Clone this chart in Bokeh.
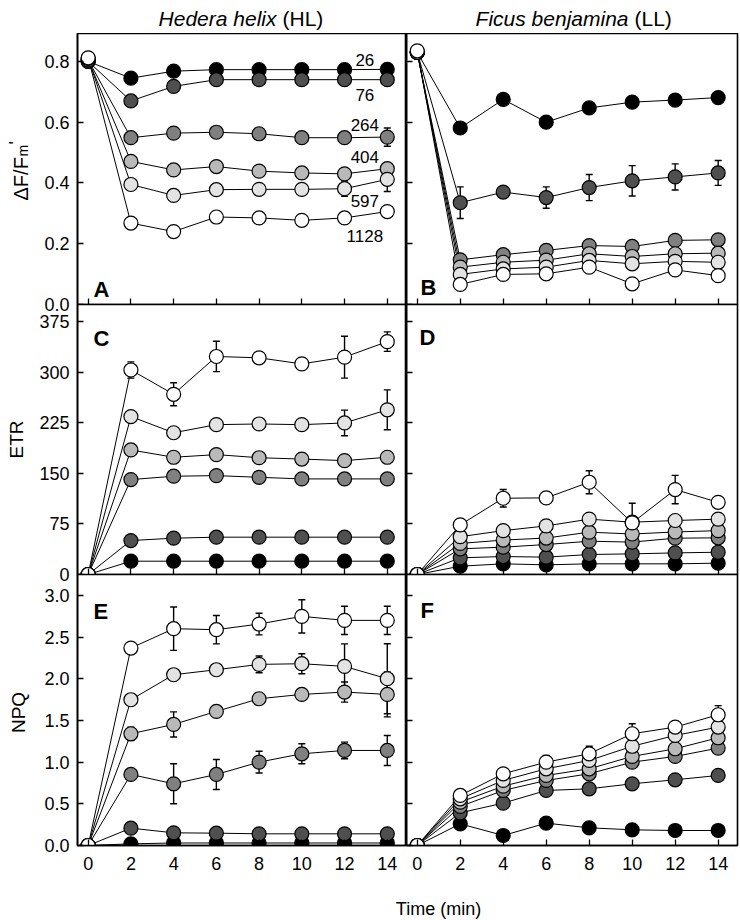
import math
from bokeh.plotting import figure
from bokeh.layouts import column, row
from bokeh.models import (Range1d, FixedTicker, Label, Whisker, ColumnDataSource,
                          TeeHead, NumeralTickFormatter, CustomJSTickFormatter)
from bokeh.embed import file_html
from bokeh.resources import INLINE

# ---------------- data ----------------
time = [0, 2, 4, 6, 8, 10, 12, 14]
intensity_labels = ["26", "76", "264", "404", "597", "1128"]
intensity_label_y = [0.806, 0.691, 0.592, 0.487, 0.342, 0.224]

# A: Hedera helix (HL), dF/Fm'
phi_HL = [
    [0.800, 0.745, 0.768, 0.773, 0.773, 0.773, 0.773, 0.774],
    [0.800, 0.670, 0.718, 0.740, 0.740, 0.740, 0.740, 0.740],
    [0.805, 0.549, 0.564, 0.567, 0.562, 0.549, 0.549, 0.551],
    [0.805, 0.471, 0.443, 0.454, 0.439, 0.433, 0.430, 0.447],
    [0.810, 0.395, 0.359, 0.378, 0.379, 0.379, 0.381, 0.412],
    [0.812, 0.268, 0.240, 0.288, 0.285, 0.277, 0.285, 0.306],
]
phi_HL_err = [
    [0, 0, 0, 0, 0, 0, 0, 0],
    [0, 0, 0, 0, 0, 0, 0, 0],
    [0, 0, 0.015, 0, 0, 0, 0, 0.030],
    [0, 0, 0, 0, 0, 0, 0, 0.020],
    [0, 0, 0, 0, 0, 0, 0.025, 0.040],
    [0, 0, 0, 0, 0, 0, 0.020, 0],
]

# B: Ficus benjamina (LL), dF/Fm'
phi_LL = [
    [0.830, 0.581, 0.675, 0.600, 0.647, 0.666, 0.673, 0.681],
    [0.830, 0.335, 0.370, 0.352, 0.385, 0.407, 0.420, 0.433],
    [0.830, 0.147, 0.164, 0.178, 0.194, 0.191, 0.211, 0.213],
    [0.830, 0.123, 0.139, 0.146, 0.167, 0.158, 0.167, 0.169],
    [0.830, 0.099, 0.117, 0.123, 0.145, 0.134, 0.142, 0.139],
    [0.835, 0.066, 0.099, 0.101, 0.123, 0.068, 0.114, 0.095],
]
phi_LL_err = [
    [0, 0, 0, 0, 0, 0, 0, 0],
    [0, 0.052, 0, 0.035, 0.043, 0.050, 0.043, 0.041],
    [0, 0, 0, 0, 0, 0, 0, 0],
    [0, 0, 0, 0, 0, 0, 0, 0],
    [0, 0, 0, 0, 0, 0, 0, 0],
    [0, 0, 0, 0, 0, 0.015, 0, 0],
]

# C: Hedera helix (HL), ETR
etr_HL = [
    [0, 19.7, 19.7, 19.7, 19.7, 19.7, 19.7, 19.7],
    [0, 50.3, 53.8, 55.3, 55.3, 55.3, 55.3, 55.3],
    [0, 140.6, 145.6, 146.5, 144.0, 141.6, 141.6, 141.6],
    [0, 184.5, 173.7, 177.6, 173.0, 171.0, 168.7, 173.7],
    [0, 234.0, 210.0, 222.0, 223.0, 222.0, 224.5, 244.0],
    [0, 303.0, 267.0, 323.0, 321.0, 312.0, 322.0, 345.0],
]
etr_HL_err = [
    [0, 0, 0, 0, 0, 0, 0, 0],
    [0, 0, 0, 0, 0, 0, 0, 0],
    [0, 0, 0, 0, 0, 0, 0, 0],
    [0, 0, 0, 0, 0, 0, 0, 0],
    [0, 0, 0, 0, 0, 0, 19.0, 29.5],
    [0, 12.0, 17.0, 22.5, 0, 0, 31.0, 14.5],
]

# D: Ficus benjamina (LL), ETR
etr_LL = [
    [0, 12.3, 15.8, 14.3, 15.8, 15.8, 15.8, 16.8],
    [0, 24.7, 26.6, 25.7, 29.6, 30.6, 32.0, 33.0],
    [0, 38.0, 40.5, 44.4, 49.3, 48.0, 53.8, 54.3],
    [0, 46.0, 51.0, 54.0, 62.7, 60.0, 63.0, 65.0],
    [0, 56.0, 65.0, 72.0, 82.0, 77.5, 80.0, 82.0],
    [0, 73.5, 113.0, 113.5, 136.7, 76.5, 125.8, 107.0],
]
etr_LL_err = [
    [0, 0, 0, 0, 0, 0, 0, 0],
    [0, 0, 0, 0, 0, 0, 0, 0],
    [0, 0, 0, 0, 0, 0, 0, 0],
    [0, 0, 0, 0, 0, 0, 0, 0],
    [0, 0, 0, 0, 0, 0, 0, 0],
    [0, 0, 13.0, 4.0, 17.0, 29.0, 21.0, 0],
]

# E: Hedera helix (HL), NPQ
npq_HL = [
    [0, 0.02, 0.03, 0.03, 0.03, 0.03, 0.03, 0.03],
    [0, 0.208, 0.152, 0.148, 0.140, 0.140, 0.140, 0.140],
    [0, 0.852, 0.740, 0.852, 1.000, 1.100, 1.140, 1.140],
    [0, 1.340, 1.452, 1.608, 1.760, 1.812, 1.840, 1.812],
    [0, 1.748, 2.048, 2.108, 2.172, 2.180, 2.148, 2.000],
    [0, 2.368, 2.600, 2.588, 2.656, 2.748, 2.700, 2.700],
]
npq_HL_err = [
    [0, 0, 0, 0, 0, 0, 0, 0],
    [0, 0, 0, 0, 0, 0, 0, 0],
    [0, 0.03, 0.24, 0.18, 0.13, 0.12, 0.10, 0.18],
    [0, 0.08, 0.15, 0.06, 0.03, 0.05, 0.12, 0.27],
    [0, 0, 0, 0.04, 0.10, 0.12, 0.27, 0.42],
    [0, 0.05, 0.26, 0.17, 0.13, 0.20, 0.17, 0.17],
]

# F: Ficus benjamina (LL), NPQ
npq_LL = [
    [0, 0.260, 0.120, 0.268, 0.212, 0.188, 0.180, 0.180],
    [0, 0.392, 0.508, 0.660, 0.680, 0.740, 0.788, 0.840],
    [0, 0.468, 0.660, 0.780, 0.860, 1.000, 1.068, 1.168],
    [0, 0.520, 0.712, 0.840, 0.920, 1.068, 1.160, 1.292],
    [0, 0.560, 0.780, 0.920, 1.020, 1.190, 1.320, 1.420],
    [0, 0.600, 0.860, 1.000, 1.100, 1.340, 1.420, 1.568],
]
npq_LL_err = [
    [0, 0, 0, 0, 0, 0, 0, 0],
    [0, 0, 0, 0, 0, 0, 0, 0],
    [0, 0, 0, 0, 0, 0.05, 0, 0],
    [0, 0, 0, 0, 0.06, 0.06, 0.06, 0.10],
    [0, 0, 0, 0, 0, 0, 0, 0],
    [0, 0, 0, 0.08, 0.09, 0.12, 0, 0.11],
]

x_ticks = [0, 2, 4, 6, 8, 10, 12, 14]
phi_ticks = [0.0, 0.2, 0.4, 0.6, 0.8]
etr_ticks = [0, 75, 150, 225, 300, 375]
npq_ticks = [0.0, 0.5, 1.0, 1.5, 2.0, 2.5, 3.0]

# ---------------- styling ----------------
FONT = "Liberation Sans"
fills = ["#000000", "#4f4f4f", "#808080", "#b9b9b9", "#e3e3e3", "#ffffff"]
X0, X1 = -0.5, 14.9
W = 740
TOP_H = 33
STRIP_W = 32
OVERLAP = 13         # room below a frame for the half of its lowest tick label
BOT_BORDER = 30
BOTTOM_H = 45


def hide_labels(ax):
    ax.formatter = CustomJSTickFormatter(code="return ''")
    ax.major_label_text_color = None
    ax.major_label_text_font_size = "1px"
    ax.major_label_standoff = 0


def make_panel(series, errs, y_end, yticks, yfmt, first_col, bottom_row, frame_h):
    p = figure(
        frame_width=329 if first_col else 331,
        frame_height=frame_h,
        x_range=Range1d(X0, X1), y_range=Range1d(0, y_end),
        output_backend="svg", toolbar_location=None,
        min_border_left=77 - STRIP_W if first_col else 0,
        min_border_right=0 if first_col else 3,
        min_border_top=0,
        min_border_bottom=BOT_BORDER if bottom_row else OVERLAP,
        background_fill_color="white",
        border_fill_color="white", border_fill_alpha=0,
    )
    p.outline_line_color = "black"
    p.outline_line_width = 1.6
    p.xgrid.visible = False
    p.ygrid.visible = False
    for ax in (p.xaxis[0], p.yaxis[0]):
        ax.axis_line_width = 1.6
        ax.major_tick_in = 6
        ax.major_tick_out = 0
        ax.major_tick_line_width = 1.3
        ax.minor_tick_line_color = None
        ax.major_label_text_font = FONT
        ax.major_label_text_color = "black"
        ax.major_label_text_font_size = "18px"
    p.xaxis.ticker = FixedTicker(ticks=x_ticks)
    p.yaxis.ticker = FixedTicker(ticks=yticks)
    p.yaxis.formatter = NumeralTickFormatter(format=yfmt)
    p.yaxis.major_label_standoff = 8
    p.xaxis.major_label_standoff = 11
    if not first_col:
        hide_labels(p.yaxis[0])
    if not bottom_row:
        hide_labels(p.xaxis[0])

    for vals in series:
        p.line(time, vals, line_color="black", line_width=1)
    for vals, err in zip(series, errs):
        xs = [t for t, e in zip(time, err) if e > 0]
        if not xs:
            continue
        up = [v + e for v, e in zip(vals, err) if e > 0]
        lo = [v - e for v, e in zip(vals, err) if e > 0]
        src = ColumnDataSource(dict(x=xs, upper=up, lower=lo))
        w = Whisker(base="x", upper="upper", lower="lower", source=src,
                    dimension="height", line_color="black", line_width=1.4,
                    upper_head=TeeHead(size=7, line_width=1.4, line_color="black"),
                    lower_head=TeeHead(size=7, line_width=1.4, line_color="black"),
                    level="underlay")
        p.add_layout(w)
    for vals, c in zip(series, fills):
        p.scatter(time, vals, size=14, fill_color=c, line_color="black", line_width=1.2)
    return p


def strip(width, height):
    s = figure(frame_width=width, frame_height=height,
               x_range=Range1d(0, width), y_range=Range1d(0, height),
               x_axis_location=None, y_axis_location=None,
               min_border=0, output_backend="svg", toolbar_location=None,
               background_fill_color="white", border_fill_color="white")
    s.outline_line_color = None
    s.grid.visible = False
    return s


def add_text(p, text, x, y, xo, yo, size, bold=False, italic=False, align="left",
             baseline="alphabetic", angle=0.0):
    style = "bold" if bold else ("italic" if italic else "normal")
    p.add_layout(Label(x=x, y=y, x_offset=xo, y_offset=yo, text=text,
                       text_font=FONT, text_font_size=f"{size}px",
                       text_font_style=style, text_color="black",
                       text_align=align, text_baseline=baseline, angle=angle))


PHI_END, ETR_END, NPQ_END = 0.892, 400, 3.25

pA = make_panel(phi_HL, phi_HL_err, PHI_END, phi_ticks, "0.0", True, False, 271)
pB = make_panel(phi_LL, phi_LL_err, PHI_END, phi_ticks, "0.0", False, False, 271)
pC = make_panel(etr_HL, etr_HL_err, ETR_END, etr_ticks, "0", True, False, 270)
pD = make_panel(etr_LL, etr_LL_err, ETR_END, etr_ticks, "0", False, False, 270)
pE = make_panel(npq_HL, npq_HL_err, NPQ_END, npq_ticks, "0.0", True, True, 271)
pF = make_panel(npq_LL, npq_LL_err, NPQ_END, npq_ticks, "0.0", False, True, 271)

# panel letters
add_text(pA, "A", X0, 0, 16, 15, 22, bold=True)
add_text(pB, "B", X0, 0, 14, 17, 22, bold=True)
add_text(pC, "C", X0, ETR_END, 16, -34, 22, bold=True)
add_text(pD, "D", X0, ETR_END, 13, -33, 22, bold=True)
add_text(pE, "E", X0, NPQ_END, 16, -37, 22, bold=True)
add_text(pF, "F", X0, NPQ_END, 14, -36, 22, bold=True)

# intensity labels in panel A
for lab, ly in zip(intensity_labels, intensity_label_y):
    add_text(pA, lab, 12.95, ly, 0, 0, 17, align="center", baseline="middle")

# ---- top strip: column titles (coordinates in pixels) ----
top = strip(W, TOP_H)
add_text(top, "Hedera helix", 276, 15, 0, 0, 21, italic=True, align="right")
add_text(top, "(HL)", 282, 15, 0, 0, 21, align="left")
add_text(top, "Ficus benjamina", 628, 15, 0, 0, 21, italic=True, align="right")
add_text(top, "(LL)", 634, 15, 0, 0, 21, align="left")

# ---- rows of panels, each overlapping the border of the one above ----
rowA = row(pA, pB)
rowC = row(pC, pD, margin=(-OVERLAP, 0, 0, 0))
rowE = row(pE, pF, margin=(-OVERLAP, 0, 0, 0))
grid = column(rowA, rowC, rowE)

# ---- left strip: y-axis titles ----
panels_h = 271 + 270 + 271 + BOT_BORDER
left = strip(STRIP_W, panels_h)
rot = math.pi / 2
add_text(left, "\u0394F/F", 20, panels_h + TOP_H - 200, 0, 0, 20, angle=rot)
add_text(left, "m", 22, panels_h + TOP_H - 156, 0, 0, 14, angle=rot)
add_text(left, "'", 15, panels_h + TOP_H - 144, 0, 0, 18, angle=rot)
add_text(left, "ETR", 15.5, panels_h + TOP_H - 439, 0, 0, 19, align="center",
         baseline="middle", angle=rot)
add_text(left, "NPQ", 18, panels_h + TOP_H - 712, 0, 0, 19, align="center",
         baseline="middle", angle=rot)

# ---- bottom strip: x-axis title ----
bottom = strip(W, BOTTOM_H)
add_text(bottom, "Time (min)", 438, 12, 0, 0, 18, align="center")

layout = column(top, row(left, grid), bottom)

open("out.html", "w").write(file_html(layout, INLINE))
